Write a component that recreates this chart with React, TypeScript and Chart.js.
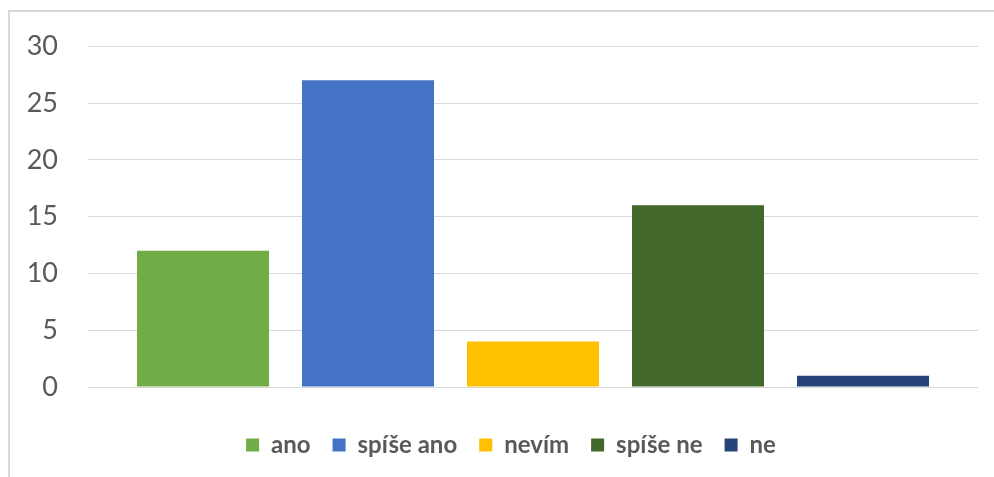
import React, { useEffect, useRef } from "react";
import { Chart, registerables } from "chart.js";

Chart.register(...registerables);

const categories = [""];
const seriesNames = ["ano", "spíše ano", "nevím", "spíše ne", "ne"];
const seriesValues = [12, 27, 4, 16, 1];
const seriesColors = ["#70AD47", "#4472C4", "#FFC000", "#43682B", "#264478"];
const yTicks = [0, 5, 10, 15, 20, 25, 30];

const legendShift = {
  id: "legendShift",
  afterLayout(chart: any) {
    const lg = chart.legend;
    if (lg) {
      lg.left += 22;
      lg.right += 22;
    }
  },
};

export default function App() {
  const ref = useRef<HTMLCanvasElement | null>(null);
  useEffect(() => {
    if (!ref.current) return;
    const chart = new Chart(ref.current, {
      type: "bar",
      data: {
        labels: categories,
        datasets: seriesNames.map((n, i) => ({
          label: n,
          data: [seriesValues[i]],
          backgroundColor: seriesColors[i],
          borderWidth: 0,
          categoryPercentage: 0.927,
          barPercentage: 0.8,
        })),
      },
      plugins: [legendShift],
      options: {
        animation: false,
        responsive: false,
        maintainAspectRatio: false,
        layout: { padding: { top: 40, right: 16, left: 0, bottom: 10 } },
        plugins: {
          tooltip: { enabled: false },
          legend: {
            position: "bottom",
            labels: {
              boxWidth: 13,
              boxHeight: 13,
              padding: 22,
              color: "#595959",
              font: { family: "Lato, 'Open Sans', sans-serif", size: 24, weight: "bold" },
            },
          },
        },
        scales: {
          x: {
            display: true,
            grid: { display: false },
            border: { display: false },
            ticks: { display: false },
            afterFit: (s: any) => { s.height = 24; },
          },
          y: {
            min: yTicks[0],
            max: yTicks[yTicks.length - 1],
            afterFit: (s: any) => { s.width = 88; },
            border: { display: false },
            grid: { color: "#d9d9d9", lineWidth: 1, drawTicks: false },
            ticks: {
              stepSize: 5,
              padding: 30,
              color: "#595959",
              font: { family: "Lato, 'Open Sans', sans-serif", size: 27 },
            },
          },
        },
      },
    });
    return () => chart.destroy();
  }, []);
  return (
    <div style={{ position: "fixed", left: 0, top: 0, width: 994, height: 477, background: "#fff" }}>
      <div style={{ position: "absolute", left: 8, top: 10, width: 1000, height: 480, borderTop: "2px solid #d9d9d9", borderLeft: "2px solid #d9d9d9" }} />
      <canvas ref={ref} width={994} height={477} style={{ position: "absolute", left: 0, top: 0 }} />
    </div>
  );
}
